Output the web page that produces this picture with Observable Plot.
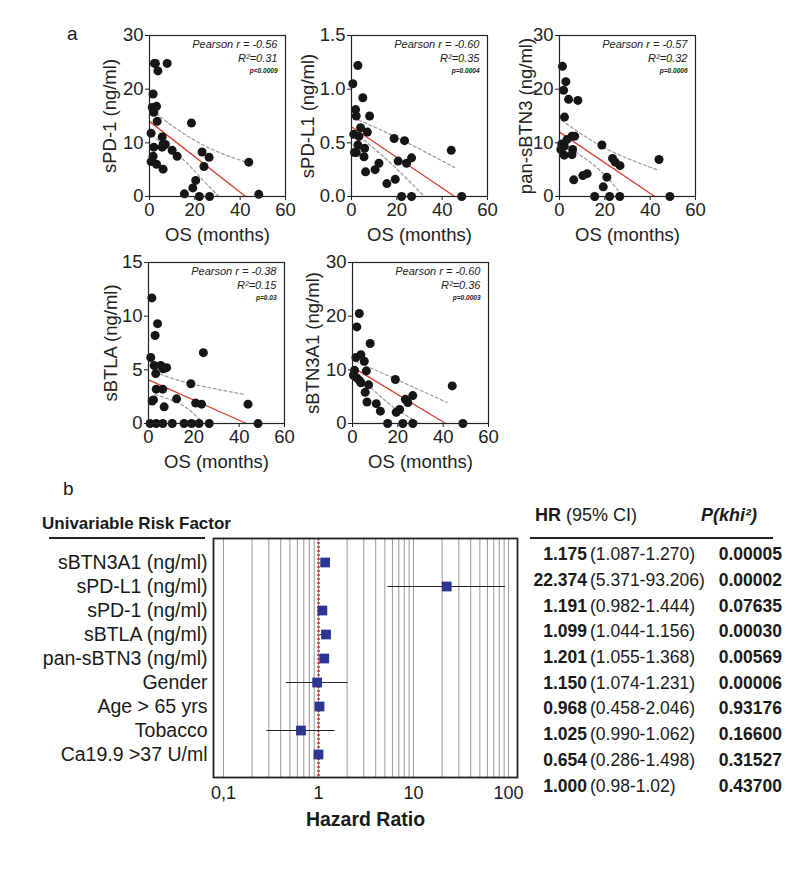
<!DOCTYPE html>
<html><head><meta charset="utf-8">
<script src="https://cdn.jsdelivr.net/npm/d3@7"></script>
<script src="https://cdn.jsdelivr.net/npm/@observablehq/plot@0.6"></script>
<style>
body{margin:0;background:#fff;}
#root{position:relative;width:800px;height:869px;font-family:"Liberation Sans",Arial,sans-serif;color:#1a1a1a;overflow:hidden;background:#fff}
.abs{position:absolute;white-space:nowrap}
.abs svg{max-width:none}
</style></head><body><div id="root"></div>
<script>
const FONT = '"Liberation Sans", Arial, sans-serif';
const osTicks = [0, 20, 40, 60];

// Panel 1: sPD-1
const pd1OS  = [2.2, 2.6, 3.7, 7.8, 1.6, 1.2, 3.1, 1.9, 3.4, 0.7, 5.6, 1.9, 6.0, 7.0, 5.6, 10.0, 12.2, 1.6, 0.7, 3.1, 6.0, 18.5, 23.2, 26.3, 24.0, 20.4, 19.1, 15.4, 22.0, 26.5, 43.8, 48.2];
const pd1Val = [24.8, 24.8, 23.4, 24.8, 19.1, 16.6, 16.8, 15.7, 14.0, 11.8, 11.1, 9.2, 9.8, 9.7, 9.2, 8.6, 7.5, 7.5, 6.5, 6.0, 5.1, 13.7, 8.3, 7.3, 5.6, 3.0, 1.6, 0.5, 0, 0, 6.4, 0.4];
const pd1FitX = [0, 42.4], pd1FitY = [14, 0];
const pd1UpX = [1, 10, 25, 44], pd1UpY = [16.1, 13.2, 9.3, 6.2];
const pd1LoX = [1, 13.7, 21, 30.6], pd1LoY = [11.4, 7.3, 4.2, 0];

// Panel 2: sPD-L1
const pdl1OS  = [0.6, 2.8, 5.0, 1.8, 2.1, 8.0, 4.0, 7.0, 1.0, 3.3, 2.8, 5.8, 1.3, 2.1, 5.5, 6.2, 10.4, 12.1, 18.8, 23.4, 20.6, 24.3, 26.5, 15.6, 19.3, 22.1, 26.5, 44.0, 48.6];
const pdl1Val = [1.05, 1.22, 0.92, 0.81, 0.75, 0.75, 0.64, 0.60, 0.58, 0.56, 0.48, 0.45, 0.41, 0.41, 0.37, 0.23, 0.25, 0.31, 0.54, 0.52, 0.33, 0.31, 0.36, 0.12, 0.16, 0, 0, 0.43, 0];
const pdl1FitX = [0, 45.5], pdl1FitY = [0.65, 0];
const pdl1UpX = [1, 20, 45.5], pdl1UpY = [0.73, 0.55, 0.27];
const pdl1LoX = [1.8, 17.3, 32.1], pdl1LoY = [0.59, 0.31, 0];

// Panel 3: pan-sBTN3
const btn3OS  = [1.3, 2.8, 1.8, 4.0, 8.1, 2.2, 5.5, 6.7, 3.3, 1.0, 2.1, 0.6, 5.8, 2.1, 5.5, 6.3, 10.3, 12.2, 18.7, 23.4, 24.6, 26.7, 20.9, 19.3, 15.5, 22.1, 26.6, 43.9, 48.7];
const btn3Val = [24.25, 21.4, 19.8, 18.1, 17.9, 14.8, 11.25, 11.25, 10.6, 9.8, 9.4, 8.75, 8.75, 7.7, 7.8, 3.1, 3.9, 4.25, 9.6, 7.1, 6.4, 5.75, 3.6, 1.8, 0, 0, 0, 6.9, 0];
const btn3FitX = [0, 42], btn3FitY = [12, 0];
const btn3UpX = [1, 19.7, 42.8], btn3UpY = [14.2, 9.1, 5.0];
const btn3LoX = [1, 16.7, 28], btn3LoY = [10, 5.3, 0];

// Panel 4: sBTLA
const btlaOS  = [1.5, 4.0, 2.9, 1.0, 2.5, 5.4, 8.0, 6.5, 3.2, 24.2, 3.4, 6.3, 18.7, 2.2, 1.6, 6.9, 12.4, 20.8, 23.4, 43.9, 0.7, 3.4, 6.3, 10.5, 15.7, 19.0, 22.3, 26.8, 48.3];
const btlaVal = [11.7, 9.3, 8.2, 6.15, 5.4, 5.4, 5.2, 5.1, 4.65, 6.6, 3.2, 3.2, 3.7, 2.2, 2.1, 1.55, 2.3, 1.9, 1.8, 1.8, 0, 0, 0, 0, 0, 0, 0, 0, 0];
const btlaFitX = [0, 43.2], btlaFitY = [4.07, 0];
const btlaUpX = [2.9, 19, 42.5], btlaUpY = [4.75, 3.7, 2.7];
const btlaLoX = [2.9, 15.4, 24.2], btlaLoY = [2.7, 1.65, 0];

// Panel 5: sBTN3A1
const a1OS  = [3.0, 1.9, 7.8, 1.5, 3.7, 5.2, 0.9, 6.1, 0.4, 1.9, 3.1, 3.7, 7.1, 5.6, 6.4, 10.5, 12.3, 18.9, 19.3, 20.8, 23.3, 24.4, 26.6, 15.5, 22.2, 26.6, 44.0, 48.7];
const a1Val = [20.5, 18.0, 14.9, 12.3, 12.8, 11.6, 9.9, 9.8, 9.0, 8.5, 8.0, 7.6, 7.2, 5.8, 4.0, 3.7, 2.3, 8.2, 2.1, 2.6, 4.5, 3.9, 5.2, 0, 0, 0, 7.0, 0];
const a1FitX = [0, 41.1], a1FitY = [10.5, 0];
const a1UpX = [1.2, 21, 41.8], a1UpY = [11.6, 7.9, 3.9];
const a1LoX = [1.2, 16.7, 30], a1LoY = [9.5, 3.5, 0];

const pearsonR = ["-0.56", "-0.60", "-0.57", "-0.38", "-0.60"];
const rSquared = ["0.31", "0.35", "0.32", "0.15", "0.36"];
const pValues  = ["p<0.0009", "p=0.0004", "p=0.0006", "p=0.03", "p=0.0003"];
const yLabels  = ["sPD-1 (ng/ml)", "sPD-L1 (ng/ml)", "pan-sBTN3 (ng/ml)", "sBTLA (ng/ml)", "sBTN3A1 (ng/ml)"];

// Forest plot
const factors = ["sBTN3A1 (ng/ml)", "sPD-L1 (ng/ml)", "sPD-1 (ng/ml)", "sBTLA (ng/ml)", "pan-sBTN3 (ng/ml)", "Gender", "Age > 65 yrs", "Tobacco", "Ca19.9 >37 U/ml"];
const hrVal = [1.175, 22.374, 1.099, 1.201, 1.150, 0.968, 1.025, 0.654, 1.000];
const hrLo  = [1.087, 5.371, 1.044, 1.055, 1.074, 0.458, 0.990, 0.286, 0.98];
const hrHi  = [1.270, 93.206, 1.156, 1.368, 1.231, 2.046, 1.062, 1.498, 1.02];
const hrTicks = [0.1, 1, 10, 100];
const hrTickLabels = ["0,1", "1", "10", "100"];
const hrGrid = [0.1,0.2,0.3,0.4,0.5,0.6,0.7,0.8,0.9,1,2,3,4,5,6,7,8,9,10,20,30,40,50,60,70,80,90,100];

// Table
const tableHR = ["1.175","22.374","1.191","1.099","1.201","1.150","0.968","1.025","0.654","1.000"];
const tableCI = ["(1.087-1.270)","(5.371-93.206)","(0.982-1.444)","(1.044-1.156)","(1.055-1.368)","(1.074-1.231)","(0.458-2.046)","(0.990-1.062)","(0.286-1.498)","(0.98-1.02)"];
const tableP  = ["0.00005","0.00002","0.07635","0.00030","0.00569","0.00006","0.93176","0.16600","0.31527","0.43700"];

const root = document.getElementById("root");
function place(node, left, top) {
  const d = document.createElement("div");
  d.className = "abs";
  d.style.left = left + "px"; d.style.top = top + "px";
  d.appendChild(node); root.appendChild(d); return d;
}
function addText(html, o) {
  const d = document.createElement("div");
  d.className = "abs";
  d.innerHTML = html;
  const size = o.size || 18;
  d.style.fontSize = size + "px";
  d.style.lineHeight = size + "px";
  d.style.top = (o.cy - size * 0.5) + "px";
  if (o.left != null) d.style.left = o.left + "px";
  if (o.right != null) { d.style.right = (800 - o.right) + "px"; d.style.textAlign = "right"; }
  if (o.weight) d.style.fontWeight = o.weight;
  if (o.style) d.style.fontStyle = o.style;
  root.appendChild(d); return d;
}
const xy = (xs, ys) => xs.map((x, i) => ({x, y: ys[i]}));

const ML = 58, MR = 16, MT = 10, MB = 54, FW = 136, FH = 161;
function panel(p, i) {
  const svg = Plot.plot({
    width: ML + FW + MR, height: MT + FH + MB,
    marginLeft: ML, marginRight: MR, marginTop: MT, marginBottom: MB,
    style: {fontSize: "18px", fontFamily: FONT, background: "transparent", overflow: "visible", color: "#222"},
    x: {domain: [0, 60]},
    y: {domain: p.domain},
    marks: [
      Plot.line(xy(p.upX, p.upY), {x: "x", y: "y", curve: "natural", stroke: "#9a9a9a", strokeWidth: 1.2, strokeDasharray: "3,2.5"}),
      Plot.line(xy(p.loX, p.loY), {x: "x", y: "y", curve: "natural", stroke: "#9a9a9a", strokeWidth: 1.2, strokeDasharray: "3,2.5"}),
      Plot.line(xy(p.fitX, p.fitY), {x: "x", y: "y", stroke: "#d6402f", strokeWidth: 1.3}),
      Plot.dot(xy(p.os, p.val), {x: "x", y: "y", r: 4.5, fill: "#161616"}),
      Plot.frame({stroke: "#222", strokeWidth: 1.2}),
      Plot.axisX({ticks: osTicks, tickSize: 4, tickPadding: 2, fontSize: 18.5, label: "OS (months)", labelAnchor: "center", labelOffset: 44, labelArrow: "none"}),
      Plot.axisY({ticks: p.ticks, tickFormat: p.fmt, tickSize: 4, tickPadding: 2, fontSize: 18.5, label: yLabels[i], labelAnchor: "center", labelOffset: p.labelOffset, labelArrow: "none"}),
      Plot.text([pearsonR[i]], {frameAnchor: "top-right", dx: -8, dy: 9, text: d => "Pearson r = " + d, fontStyle: "italic", fontSize: 11, textAnchor: "end", lineAnchor: "middle", fill: "#222"}),
      Plot.text([rSquared[i]], {frameAnchor: "top-right", dx: -8, dy: 23, text: d => "R²=" + d, fontStyle: "italic", fontSize: 11, textAnchor: "end", lineAnchor: "middle", fill: "#222"}),
      Plot.text([pValues[i]], {frameAnchor: "top-right", dx: -8, dy: 35, text: d => d, fontStyle: "italic", fontWeight: "bold", fontSize: 6.5, textAnchor: "end", lineAnchor: "middle", fill: "#222"})
    ]
  });
  place(svg, p.fl - ML, p.ft - MT);
}

panel({os: pd1OS, val: pd1Val, fitX: pd1FitX, fitY: pd1FitY, upX: pd1UpX, upY: pd1UpY, loX: pd1LoX, loY: pd1LoY,
  domain: [0, 30], ticks: [0, 10, 20, 30], fmt: d => d, labelOffset: 47, fl: 149, ft: 35}, 0);
panel({os: pdl1OS, val: pdl1Val, fitX: pdl1FitX, fitY: pdl1FitY, upX: pdl1UpX, upY: pdl1UpY, loX: pdl1LoX, loY: pdl1LoY,
  domain: [0, 1.5], ticks: [0, 0.5, 1, 1.5], fmt: d => d.toFixed(1), labelOffset: 51, fl: 351, ft: 35}, 1);
panel({os: btn3OS, val: btn3Val, fitX: btn3FitX, fitY: btn3FitY, upX: btn3UpX, upY: btn3UpY, loX: btn3LoX, loY: btn3LoY,
  domain: [0, 30], ticks: [0, 10, 20, 30], fmt: d => d, labelOffset: 41, fl: 559, ft: 35}, 2);
panel({os: btlaOS, val: btlaVal, fitX: btlaFitX, fitY: btlaFitY, upX: btlaUpX, upY: btlaUpY, loX: btlaLoX, loY: btlaLoY,
  domain: [0, 15], ticks: [0, 5, 10, 15], fmt: d => d, labelOffset: 45, fl: 148, ft: 262}, 3);
panel({os: a1OS, val: a1Val, fitX: a1FitX, fitY: a1FitY, upX: a1UpX, upY: a1UpY, loX: a1LoX, loY: a1LoY,
  domain: [0, 30], ticks: [0, 10, 20, 30], fmt: d => d, labelOffset: 47, fl: 352, ft: 262}, 4);

// Forest plot
const forest = factors.map((f, i) => ({f, hr: hrVal[i], lo: hrLo[i], hi: hrHi[i]}));
const fsvg = Plot.plot({
  width: 540, height: 309, marginLeft: 213, marginRight: 23, marginTop: 10, marginBottom: 60,
  style: {fontSize: "18px", fontFamily: FONT, background: "transparent", overflow: "visible", color: "#1a1a1a"},
  x: {type: "log", domain: [0.0785, 124.4]},
  y: {type: "point", domain: factors, padding: 0.83},
  marks: [
    Plot.ruleX(hrGrid, {stroke: "#8c8c8c", strokeWidth: 0.9}),
    Plot.ruleX([1], {stroke: "#d8342a", strokeWidth: 2.4, strokeDasharray: "2,2"}),
    Plot.ruleY(forest, {y: "f", x1: "lo", x2: "hi", stroke: "#222", strokeWidth: 1.2}),
    Plot.dot(forest, {x: "hr", y: "f", symbol: "square", r: 5.5, fill: "#2d3592"}),
    Plot.frame({stroke: "#222", strokeWidth: 1.8}),
    Plot.axisX({ticks: hrTicks, tickSize: 0, tickPadding: 9, tickFormat: d => hrTickLabels[hrTicks.indexOf(d)], label: null}),
    Plot.axisY({tickSize: 0, tickPadding: 6, fontSize: 19.5, label: null}),
    Plot.text(["Hazard Ratio"], {frameAnchor: "bottom", dy: 42, fontWeight: "bold", fontSize: 19.5, lineAnchor: "middle", fill: "#1a1a1a"})
  ]
});
place(fsvg, 0, 528);

// Panel letters and headers
addText("a", {left: 67, cy: 33, size: 19});
addText("b", {left: 63, cy: 488, size: 19});
addText("Univariable Risk Factor", {left: 42, cy: 523, size: 17, weight: "bold"});
const ul1 = document.createElement("div"); ul1.className = "abs";
Object.assign(ul1.style, {left: "49px", top: "537px", width: "156px", height: "1.6px", background: "#222"}); root.appendChild(ul1);
addText("<b>HR</b> (95% CI)", {left: 535, cy: 515, size: 18});
addText("<b><i>P(khi²)</i></b>", {right: 757, cy: 515, size: 18});
const ul2 = document.createElement("div"); ul2.className = "abs";
Object.assign(ul2.style, {left: "530px", top: "537px", width: "243px", height: "1.6px", background: "#222"}); root.appendChild(ul2);

tableHR.forEach((h, i) => {
  const cy = 555 + i * 25.7;
  addText(h, {right: 587, cy, size: 17.5, weight: "bold"});
  addText(tableCI[i], {left: 590, cy, size: 17.5});
  addText(tableP[i], {right: 782, cy, size: 17.5, weight: "bold"});
});
</script></body></html>
